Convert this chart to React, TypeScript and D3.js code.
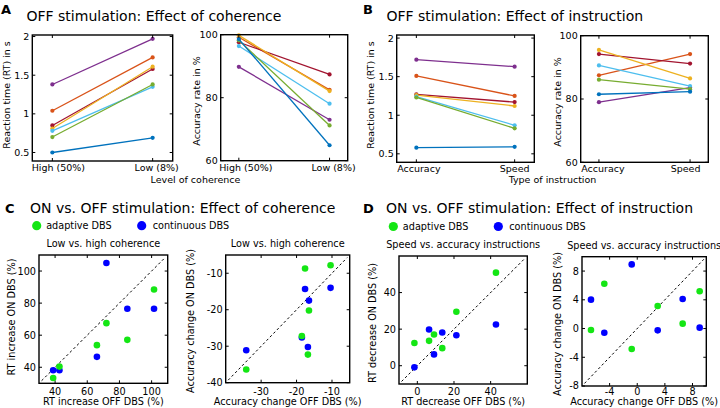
import React from "react";
import * as d3 from "d3";

// ---------- Data ----------
const coherenceCats = ["High (50%)", "Low (8%)"];
const instructionCats = ["Accuracy", "Speed"];
// subjects: purple, orange, dark red, yellow, light blue, green, blue
const rtCoherenceHigh = [1.38, 1.04, 0.85, 0.81, 0.78, 0.7, 0.5];
const rtCoherenceLow = [1.97, 1.73, 1.58, 1.61, 1.35, 1.38, 0.69];
const accCoherenceHigh = [89.8, 99.2, 97.6, 99.8, 96.4, 98.2, 98.6];
const accCoherenceLow = [73.0, 82.5, 87.4, 82.1, 78.1, 71.2, 64.9];
const rtInstrAccuracy = [1.72, 1.51, 1.27, 1.26, 1.24, 1.23, 0.58];
const rtInstrSpeed = [1.63, 1.25, 1.17, 1.12, 0.87, 0.83, 0.59];
const accInstrAccuracy = [79.0, 87.5, 94.2, 95.5, 90.6, 86.1, 81.5];
const accInstrSpeed = [83.6, 94.2, 91.2, 86.5, 84.1, 83.1, 82.3];

const rtTicks = [0.5, 1, 1.5, 2];
const accTicks = [60, 80, 100];

// ON vs OFF: coherence
const cohRtOffAdaptive = [38.8, 42.7, 71.9, 66.0, 84.9, 101.5];
const cohRtOnAdaptive = [33.3, 40.4, 67.5, 53.8, 57.1, 88.5];
const cohRtOffContinuous = [38.8, 42.7, 66.0, 71.9, 84.9, 101.5];
const cohRtOnContinuous = [38.1, 38.1, 46.5, 105.0, 76.5, 76.5];
const cohAccOffAdaptive = [-34.2, -18.5, -16.8, -16.5, -17.6, -10.4];
const cohAccOnAdaptive = [-36.4, -27.2, -32.3, -20.2, -8.7, -7.8];
const cohAccOffContinuous = [-34.2, -18.5, -16.8, -16.5, -17.6, -10.4];
const cohAccOnContinuous = [-31.1, -27.6, -30.2, -17.5, -14.3, -14.0];
// ON vs OFF: instruction
const insRtOffAdaptive = [-1.6, 6.4, 9.1, 13.6, 21.3, 42.9];
const insRtOnAdaptive = [12.4, 13.6, 17.1, 9.6, 29.5, 50.9];
const insRtOffContinuous = [-1.6, 6.4, 9.1, 13.6, 21.3, 42.9];
const insRtOnContinuous = [-0.9, 19.8, 6.2, 18.2, 16.7, 22.5];
const insAccOffAdaptive = [-6.7, -4.77, -0.8, 2.96, 6.58, 9.04];
const insAccOnAdaptive = [-0.2, 6.24, -2.85, 3.14, 0.68, 5.18];
const insAccOffContinuous = [-6.7, -4.77, -0.8, 2.96, 6.58, 9.04];
const insAccOnContinuous = [4.02, -0.58, 8.93, -0.25, 4.11, 0.12];

const seriesNames = ["adaptive DBS", "continuous DBS"];

// ---------- Styles ----------
const subjectColors = ["#7E2F8E", "#D95319", "#A2142F", "#EDB120", "#4DBEEE", "#77AC30", "#0072BD"];
const adaptiveColor = "#14e614";
const continuousColor = "#0000ff";
const FONT = "DejaVu Sans";

type Frame = { x0: number; x1: number; y0: number; y1: number };

function Frame({ f }: { f: Frame }) {
  return (
    <rect x={f.x0} y={f.y0} width={f.x1 - f.x0} height={f.y1 - f.y0} fill="none" stroke="#000" strokeWidth={1.4} />
  );
}

function LinePanel({
  f, yDomain, cats, a, b, yTicks, ylabel, ylabelPos, labelShift,
}: {
  f: Frame; yDomain: [number, number]; cats: string[]; a: number[]; b: number[];
  yTicks: number[]; ylabel: string; ylabelPos: [number, number]; labelShift: number[];
}) {
  const x = d3.scaleLinear().domain([-0.2, 1.2]).range([f.x0, f.x1]);
  const y = d3.scaleLinear().domain(yDomain).range([f.y1, f.y0]);
  const line = d3.line<[number, number]>().x((d) => x(d[0])).y((d) => y(d[1]));
  return (
    <g>
      <rect x={f.x0} y={f.y0} width={f.x1 - f.x0} height={f.y1 - f.y0} fill="#fff" />
      {a.map((v, i) => {
        const pts: [number, number][] = [[0, v], [1, b[i]]];
        return (
          <g key={i}>
            <path d={line(pts) || ""} stroke={subjectColors[i]} strokeWidth={1.3} fill="none" />
            {pts.map((p, j) => (
              <circle key={j} cx={x(p[0])} cy={y(p[1])} r={2.1} fill={subjectColors[i]} />
            ))}
          </g>
        );
      })}
      {yTicks.map((t) => (
        <g key={t}>
          <line x1={f.x0} x2={f.x0 + 3} y1={y(t)} y2={y(t)} stroke="#000" />
          <line x1={f.x1} x2={f.x1 - 3} y1={y(t)} y2={y(t)} stroke="#000" />
          <text x={f.x0 - 3} y={y(t)} dy="0.36em" textAnchor="end" fontSize={9.5} fontFamily={FONT}>{t}</text>
        </g>
      ))}
      {cats.map((c, i) => (
        <g key={c}>
          <line x1={x(i)} x2={x(i)} y1={f.y1} y2={f.y1 - 3} stroke="#000" />
          <line x1={x(i)} x2={x(i)} y1={f.y0} y2={f.y0 + 3} stroke="#000" />
          <text x={x(i) + labelShift[i]} y={f.y1 + 10} textAnchor="middle" fontSize={9.5} fontFamily={FONT}>{c}</text>
        </g>
      ))}
      <Frame f={f} />
      <text transform={`translate(${ylabelPos[0]},${ylabelPos[1]}) rotate(-90)`} dy="0.35em" textAnchor="middle" fontSize={9.5} fontFamily={FONT}>{ylabel}</text>
    </g>
  );
}

function ScatterPanel({
  f, domain, xTicks, yTicks, ax, ay, cx, cy, title, xlabel, ylabel, ylabelPos,
}: {
  f: Frame; domain: [number, number]; xTicks: number[]; yTicks: number[];
  ax: number[]; ay: number[]; cx: number[]; cy: number[];
  title: string; xlabel: string; ylabel: string; ylabelPos: [number, number];
}) {
  const x = d3.scaleLinear().domain(domain).range([f.x0, f.x1]);
  const y = d3.scaleLinear().domain(domain).range([f.y1, f.y0]);
  const diag = d3.line<number>().x((d) => x(d)).y((d) => y(d));
  const lo = domain[0] + (domain[1] - domain[0]) * 0.02;
  const hi = domain[1] - (domain[1] - domain[0]) * 0.02;
  const cxm = (f.x0 + f.x1) / 2;
  return (
    <g>
      <text x={cxm} y={f.y0 - 8} textAnchor="middle" fontSize={9.7} fontFamily={FONT}>{title}</text>
      <path d={diag([lo, hi]) || ""} stroke="#000" strokeWidth={1} strokeDasharray="2.5,2.5" fill="none" />
      {xTicks.map((t) => (
        <g key={t}>
          <line x1={x(t)} x2={x(t)} y1={f.y1} y2={f.y1 - 3} stroke="#000" />
          <line x1={x(t)} x2={x(t)} y1={f.y0} y2={f.y0 + 3} stroke="#000" />
          <text x={x(t)} y={394.5} textAnchor="middle" fontSize={9.7} fontFamily={FONT}>{t}</text>
        </g>
      ))}
      {yTicks.map((t) => (
        <g key={t}>
          <line x1={f.x0} x2={f.x0 + 3} y1={y(t)} y2={y(t)} stroke="#000" />
          <line x1={f.x1} x2={f.x1 - 3} y1={y(t)} y2={y(t)} stroke="#000" />
          <text x={f.x0 - 3} y={y(t)} dy="0.36em" textAnchor="end" fontSize={9.7} fontFamily={FONT}>{t}</text>
        </g>
      ))}
      {cx.map((v, i) => (
        <circle key={"c" + i} cx={x(v)} cy={y(cy[i])} r={3.3} fill={continuousColor} />
      ))}
      {ax.map((v, i) => (
        <circle key={"a" + i} cx={x(v)} cy={y(ay[i])} r={3.3} fill={adaptiveColor} />
      ))}
      <Frame f={f} />
      <text x={cxm} y={405} textAnchor="middle" fontSize={9.7} fontFamily={FONT}>{xlabel}</text>
      <text transform={`translate(${ylabelPos[0]},${ylabelPos[1]}) rotate(-90)`} dy="0.35em" textAnchor="middle" fontSize={9.7} fontFamily={FONT}>{ylabel}</text>
    </g>
  );
}

function Legend({ x0, y }: { x0: number; y: number }) {
  return (
    <g fontFamily={FONT} fontSize={9.7}>
      <circle cx={x0} cy={y} r={4.6} fill={adaptiveColor} />
      <text x={x0 + 9.5} y={y + 3.5}>{seriesNames[0]}</text>
      <circle cx={x0 + 105} cy={y} r={4.6} fill={continuousColor} />
      <text x={x0 + 116} y={y + 3.5}>{seriesNames[1]}</text>
    </g>
  );
}

export default function App() {
  return (
    <svg width={720} height={408} style={{ position: "absolute", left: 0, top: 0, background: "#fff" }} fontFamily={FONT}>
      <rect width={720} height={408} fill="#fff" />
      {/* Panel letters & titles */}
      <text x={1} y={13.5} fontSize={13} fontWeight="bold">A</text>
      <text x={26.5} y={21} fontSize={14}>OFF stimulation: Effect of coherence</text>
      <text x={363} y={13.5} fontSize={13} fontWeight="bold">B</text>
      <text x={386.5} y={21} fontSize={14}>OFF stimulation: Effect of instruction</text>
      <text x={5} y={213.3} fontSize={13} fontWeight="bold">C</text>
      <text x={30} y={213.3} fontSize={14}>ON vs. OFF stimulation: Effect of coherence</text>
      <text x={363} y={213.3} fontSize={13} fontWeight="bold">D</text>
      <text x={386} y={213.3} fontSize={14}>ON vs. OFF stimulation: Effect of instruction</text>

      <LinePanel f={{ x0: 32.3, x1: 172.7, y0: 35, y1: 161 }} yDomain={[0.39, 2.02]} cats={coherenceCats} labelShift={[6, 4]}
        a={rtCoherenceHigh} b={rtCoherenceLow} yTicks={rtTicks} ylabel="Reaction time (RT) in s" ylabelPos={[7, 95]} />
      <LinePanel f={{ x0: 220.7, x1: 347.7, y0: 34.7, y1: 160.7 }} yDomain={[60, 100]} cats={coherenceCats} labelShift={[7, 4]}
        a={accCoherenceHigh} b={accCoherenceLow} yTicks={accTicks} ylabel="Accuracy rate in %" ylabelPos={[197, 101]} />
      <text x={195.5} y={183} textAnchor="middle" fontSize={9.5}>Level of coherence</text>

      <LinePanel f={{ x0: 396.7, x1: 534.3, y0: 35, y1: 162.3 }} yDomain={[0.39, 2.04]} cats={instructionCats} labelShift={[2.5, 0]}
        a={rtInstrAccuracy} b={rtInstrSpeed} yTicks={rtTicks} ylabel="Reaction time (RT) in s" ylabelPos={[371, 95]} />
      <LinePanel f={{ x0: 580.7, x1: 708.3, y0: 35.7, y1: 162.3 }} yDomain={[60, 100]} cats={instructionCats} labelShift={[4, -4.5]}
        a={accInstrAccuracy} b={accInstrSpeed} yTicks={accTicks} ylabel="Accuracy rate in %" ylabelPos={[557.5, 102]} />
      <text x={552.5} y={183} textAnchor="middle" fontSize={9.5}>Type of instruction</text>

      <Legend x0={36.7} y={225.7} />
      <Legend x0={393.3} y={226.5} />

      <ScatterPanel f={{ x0: 39, x1: 167.7, y0: 255, y1: 383.3 }} domain={[30, 110]} xTicks={[40, 60, 80, 100]} yTicks={[40, 60, 80, 100]}
        ax={cohRtOffAdaptive} ay={cohRtOnAdaptive} cx={cohRtOffContinuous} cy={cohRtOnContinuous}
        title="Low vs. high coherence" xlabel="RT increase OFF DBS (%)" ylabel="RT increase ON DBS (%)" ylabelPos={[12, 317]} />
      <ScatterPanel f={{ x0: 225.7, x1: 349.7, y0: 255, y1: 382.7 }} domain={[-40, -5]} xTicks={[-30, -20, -10]} yTicks={[-40, -30, -20, -10]}
        ax={cohAccOffAdaptive} ay={cohAccOnAdaptive} cx={cohAccOffContinuous} cy={cohAccOnContinuous}
        title="Low vs. high coherence" xlabel="Accuracy change OFF DBS (%)" ylabel="Accuracy change ON DBS (%)" ylabelPos={[191, 321]} />
      <ScatterPanel f={{ x0: 399, x1: 527.3, y0: 256, y1: 384 }} domain={[-10, 60]} xTicks={[0, 20, 40]} yTicks={[0, 20, 40]}
        ax={insRtOffAdaptive} ay={insRtOnAdaptive} cx={insRtOffContinuous} cy={insRtOnContinuous}
        title="Speed vs. accuracy instructions" xlabel="RT decrease OFF DBS (%)" ylabel="RT decrease ON DBS (%)" ylabelPos={[372.5, 323]} />
      <ScatterPanel f={{ x0: 582, x1: 706.3, y0: 256.7, y1: 386 }} domain={[-8, 10]} xTicks={[-4, 0, 4, 8]} yTicks={[-8, -4, 0, 4, 8]}
        ax={insAccOffAdaptive} ay={insAccOnAdaptive} cx={insAccOffContinuous} cy={insAccOnContinuous}
        title="Speed vs. accuracy instructions" xlabel="Accuracy change OFF DBS (%)" ylabel="Accuracy change ON DBS (%)" ylabelPos={[557.5, 324]} />
    </svg>
  );
}
